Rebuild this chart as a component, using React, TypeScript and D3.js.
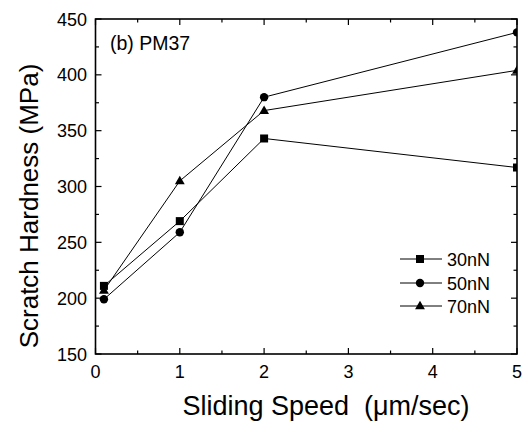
import React from "react";
import * as d3 from "d3";

const speeds = [0.1, 1, 2, 5];
const series30 = [211, 269, 343, 317];
const series50 = [199, 259, 380, 438];
const series70 = [207, 305, 368, 404];
const seriesNames = ["30nN", "50nN", "70nN"];
const seriesShapes = ["square", "circle", "triangle"];
const xMajorTicks = [0, 1, 2, 3, 4, 5];
const xMinorTicks = [0.5, 1.5, 2.5, 3.5, 4.5];
const yMajorTicks = [150, 200, 250, 300, 350, 400, 450];
const yMinorTicks = [175, 225, 275, 325, 375, 425];

const W = 524, H = 422;
const L = 95.5, R = 517, T = 19, B = 354;

export default function App() {
  const x = d3.scaleLinear().domain([0, 5]).range([L, R]);
  const y = d3.scaleLinear().domain([150, 450]).range([B, T]);
  const all = [series30, series50, series70];
  const line = d3.line<[number, number]>().x(d => x(d[0])).y(d => y(d[1]));
  const font = "'Liberation Sans', Arial, Helvetica, sans-serif";

  const marker = (shape: string, cx: number, cy: number, key: string) => {
    if (shape === "square") return <rect key={key} x={cx - 4} y={cy - 4} width={8} height={8} fill="#000" />;
    if (shape === "circle") return <circle key={key} cx={cx} cy={cy} r={4.2} fill="#000" />;
    const sym = d3.symbol().type(d3.symbolTriangle).size(42)();
    return <path key={key} d={sym || ""} transform={`translate(${cx},${cy + 0.5})`} fill="#000" />;
  };

  const legendRows = [259, 283, 306];

  return (
    <svg width={W} height={H} style={{ position: "absolute", left: 0, top: 0, background: "#fff" }} fontFamily={font}>
      <defs>
        <clipPath id="plotclip">
          <rect x={L} y={T} width={R - L} height={B - T} />
        </clipPath>
      </defs>
      <rect x={0} y={0} width={W} height={H} fill="#fff" />
      {/* data */}
      <g clipPath="url(#plotclip)">
        {all.map((s, i) => (
          <g key={i}>
            <path d={line(speeds.map((v, j) => [v, s[j]] as [number, number])) || ""} fill="none" stroke="#000" strokeWidth={1} />
            {speeds.map((v, j) => marker(seriesShapes[i], x(v), y(s[j]), `m${i}-${j}`))}
          </g>
        ))}
      </g>
      {/* frame */}
      <rect x={L} y={T} width={R - L} height={B - T} fill="none" stroke="#000" strokeWidth={1.6} />
      {/* x ticks */}
      {xMajorTicks.map(t => (
        <g key={`xt${t}`}>
          <line x1={x(t)} x2={x(t)} y1={B} y2={B - 6} stroke="#000" strokeWidth={1.2} />
          <line x1={x(t)} x2={x(t)} y1={T} y2={T + 6} stroke="#000" strokeWidth={1.2} />
          <text x={x(t)} y={378} fontSize={18} textAnchor="middle">{t}</text>
        </g>
      ))}
      {xMinorTicks.map(t => (
        <g key={`xm${t}`}>
          <line x1={x(t)} x2={x(t)} y1={B} y2={B - 3.5} stroke="#000" strokeWidth={1.2} />
          <line x1={x(t)} x2={x(t)} y1={T} y2={T + 3.5} stroke="#000" strokeWidth={1.2} />
        </g>
      ))}
      {/* y ticks */}
      {yMajorTicks.map(t => (
        <g key={`yt${t}`}>
          <line x1={L} x2={L + 6} y1={y(t)} y2={y(t)} stroke="#000" strokeWidth={1.2} />
          <line x1={R} x2={R - 6} y1={y(t)} y2={y(t)} stroke="#000" strokeWidth={1.2} />
          <text x={87} y={y(t) + 6.5} fontSize={18} textAnchor="end">{t}</text>
        </g>
      ))}
      {yMinorTicks.map(t => (
        <g key={`ym${t}`}>
          <line x1={L} x2={L + 3.5} y1={y(t)} y2={y(t)} stroke="#000" strokeWidth={1.2} />
          <line x1={R} x2={R - 3.5} y1={y(t)} y2={y(t)} stroke="#000" strokeWidth={1.2} />
        </g>
      ))}
      {/* annotation */}
      <text x={110} y={50} fontSize={19.5}>(b) PM37</text>
      {/* legend */}
      {seriesNames.map((n, i) => (
        <g key={n}>
          <line x1={400} x2={442} y1={legendRows[i]} y2={legendRows[i]} stroke="#000" strokeWidth={1} />
          {marker(seriesShapes[i], 420, legendRows[i], `lg${i}`)}
          <text x={447} y={legendRows[i] + 6.5} fontSize={18}>{n}</text>
        </g>
      ))}
      {/* axis titles */}
      <text x={326} y={415} fontSize={27} textAnchor="middle" style={{ whiteSpace: "pre" }}>Sliding Speed  (μm/sec)</text>
      <text transform={`translate(38,206) rotate(-90)`} fontSize={26} textAnchor="middle">Scratch Hardness (MPa)</text>
    </svg>
  );
}
